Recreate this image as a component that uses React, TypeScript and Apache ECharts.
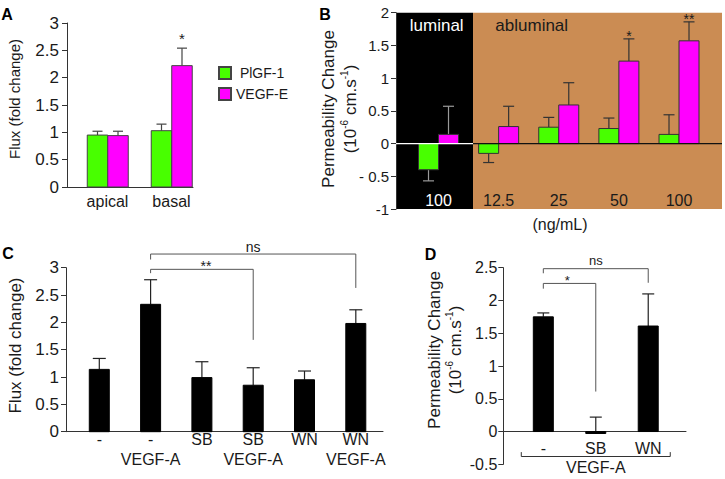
import React, { useEffect, useRef } from 'react';
import * as echarts from 'echarts';

// ---------------- data ----------------
const A_CATEGORIES = ['apical', 'basal'];
const A_PLGF = [0.95, 1.03];
const A_PLGF_ERR = [1.02, 1.15];
const A_VEGFE = [0.94, 2.22];
const A_VEGFE_ERR = [1.02, 2.54];

const B_CATEGORIES = ['100', '12.5', '25', '50', '100'];
const B_PLGF = [-0.4, -0.15, 0.25, 0.23, 0.14];
const B_PLGF_ERR = [-0.57, -0.29, 0.4, 0.39, 0.44];
const B_VEGFE = [0.14, 0.26, 0.59, 1.26, 1.57];
const B_VEGFE_ERR = [0.57, 0.57, 0.93, 1.6, 1.86];

const C_CATEGORIES = ['-', '-\nVEGF-A', 'SB', 'SB\nVEGF-A', 'WN', 'WN\nVEGF-A'];
const C_FLUX = [1.14, 2.33, 0.99, 0.85, 0.95, 1.98];
const C_FLUX_ERR = [1.34, 2.78, 1.28, 1.17, 1.11, 2.23];

const D_CATEGORIES = ['-', 'SB', 'WN'];
const D_PERM = [1.75, -0.03, 1.61];
const D_PERM_ERR = [1.81, 0.22, 2.1];

const SERIES_NAMES = ['PlGF-1', 'VEGF-E'];

// significance annotations (data units)
const A_STARS = [{ x: 1, y: A_VEGFE_ERR[1], label: '*' }];
const B_STARS = [
  { x: 3, y: B_VEGFE_ERR[3], label: '*' },
  { x: 4, y: B_VEGFE_ERR[4], label: '**' },
];
const C_BRACKETS = [
  { from: 1, to: 5, y: 3.25, leftEnd: 3.15, rightEnd: 2.63, label: 'ns', lx: 3, ly: 3.38 },
  { from: 1, to: 3, y: 2.97, leftEnd: 2.9, rightEnd: 1.68, label: '**', lx: 2.08, ly: 3.09 },
];
const D_BRACKETS = [
  { from: 0, to: 2, y: 2.485, leftEnd: 2.415, rightEnd: 2.27, label: 'ns', lx: 1, ly: 2.61 },
  { from: 0, to: 1, y: 2.26, leftEnd: 2.18, rightEnd: 0.61, label: '*', lx: 0.457, ly: 2.35 },
];
const D_GROUP = { from: -0.42, to: 2.42, y: -0.381, tip: -0.314, label: 'VEGF-A', ly: -0.543 };

// B regions
const B_REGIONS = [
  { from: -0.707, to: 0.574 },
  { from: 0.574, to: 4.715 },
];

// ---------------- style ----------------
const FONT = "'Liberation Sans', Arial, Helvetica, sans-serif";
const TXT = '#1a1a1a';
const AX = '#333';
const GREEN = '#48FF00';
const MAGENTA = '#FF00FF';
const BROWN = '#CB8C53';

const D_YMIN = -0.5;
const D_YMAX = 2.5;
const D_GRID = { left: 503.3, top: 267.7, width: 182.7, height: 196.6 };
const D_ZERO_OFFSET = ((0 - D_YMIN) / (D_YMAX - D_YMIN)) * D_GRID.height;

function barRender(offset: number, width: number, capW: number, errColor: (i: number) => string, fill: string, stroke: string) {
  return (params: any, api: any) => {
    const x = api.value(0);
    const v = api.value(1);
    const e = api.value(2);
    const base = api.coord([x, 0]);
    const top = api.coord([x, v]);
    const err = api.coord([x, e]);
    const cx = base[0] + offset;
    const ec = errColor(params.dataIndex);
    return {
      type: 'group',
      children: [
        { type: 'line', shape: { x1: cx, y1: top[1], x2: cx, y2: err[1] }, style: { stroke: ec, lineWidth: 1.2 } },
        { type: 'line', shape: { x1: cx - capW / 2, y1: err[1], x2: cx + capW / 2, y2: err[1] }, style: { stroke: ec, lineWidth: 1.2 } },
        {
          type: 'rect',
          shape: { x: cx - width / 2, y: Math.min(base[1], top[1]), width, height: Math.abs(base[1] - top[1]) },
          style: { fill, stroke, lineWidth: 1 },
        },
      ],
    };
  };
}

function barSeries(name: string, gi: number, values: number[], errs: number[], offset: number, width: number, capW: number, fill: string, stroke: string, errColor: (i: number) => string) {
  return {
    type: 'custom',
    name,
    xAxisIndex: gi,
    yAxisIndex: gi,
    clip: false,
    z: 3,
    itemStyle: { color: fill, borderColor: stroke, borderWidth: 1 },
    encode: { x: 0, y: 1 },
    data: values.map((v, i) => [i, v, errs[i]]),
    renderItem: barRender(offset, width, capW, errColor, fill, stroke),
  };
}

function starSeries(gi: number, stars: { x: number; y: number; label: string }[], dx: number, dy: number, fs: number) {
  return {
    type: 'custom',
    xAxisIndex: gi,
    yAxisIndex: gi,
    clip: false,
    z: 6,
    silent: true,
    encode: { x: 0, y: 1 },
    data: stars.map((s) => [s.x, s.y]),
    renderItem: (params: any, api: any) => {
      const p = api.coord([api.value(0), api.value(1)]);
      return {
        type: 'text',
        x: p[0] + dx,
        y: p[1] - dy + fs * 0.22,
        style: { text: stars[params.dataIndex].label, fill: TXT, fontSize: fs, fontFamily: FONT, align: 'center', verticalAlign: 'middle' },
      };
    },
  };
}

function bracketSeries(gi: number, brackets: any[], fs: number) {
  return {
    type: 'custom',
    xAxisIndex: gi,
    yAxisIndex: gi,
    clip: false,
    z: 6,
    silent: true,
    encode: { x: 0, y: 1 },
    data: brackets.map((b) => [b.from, b.y]),
    renderItem: (params: any, api: any) => {
      const b = brackets[params.dataIndex];
      const pts = [
        api.coord([b.from, b.leftEnd]),
        api.coord([b.from, b.y]),
        api.coord([b.to, b.y]),
        api.coord([b.to, b.rightEnd]),
      ];
      const lp = api.coord([b.lx, b.ly]);
      const star = b.label.indexOf('*') >= 0;
      return {
        type: 'group',
        children: [
          { type: 'polyline', shape: { points: pts }, style: { stroke: '#555', lineWidth: 1, fill: 'none' } },
          {
            type: 'text',
            x: lp[0],
            y: lp[1] + (star ? fs * 0.22 : 0),
            style: { text: b.label, fill: TXT, fontSize: fs, fontFamily: FONT, align: 'center', verticalAlign: 'middle' },
          },
        ],
      };
    },
  };
}

function buildOption() {
  const yAxisBase = (gi: number, min: number, max: number, fs: number, margin: number, fmt?: (v: number) => string) => ({
    gridIndex: gi,
    type: 'value',
    min,
    max,
    interval: 0.5,
    axisLine: { show: true, onZero: false, lineStyle: { color: AX, width: 1 } },
    axisTick: { show: true, length: 5, lineStyle: { color: AX } },
    splitLine: { show: false },
    axisLabel: { fontSize: fs, fontFamily: FONT, color: TXT, margin, formatter: fmt },
  });

  return {
    animation: false,
    backgroundColor: '#fff',
    textStyle: { fontFamily: FONT },
    grid: [
      { left: 67, top: 23, width: 126, height: 164, outerBoundsMode: 'none', containLabel: false },
      { left: 396, top: 12.7, width: 326, height: 196.3, outerBoundsMode: 'none', containLabel: false },
      { left: 66, top: 267.7, width: 317, height: 164, outerBoundsMode: 'none', containLabel: false },
      { ...D_GRID, outerBoundsMode: 'none', containLabel: false },
    ],
    xAxis: [
      {
        gridIndex: 0,
        type: 'value',
        min: -0.633,
        max: 1.336,
        axisLine: { show: true, onZero: false, lineStyle: { color: AX } },
        axisTick: { show: false },
        splitLine: { show: false },
        axisLabel: {
          customValues: A_CATEGORIES.map((_, i) => i),
          formatter: (v: number) => A_CATEGORIES[Math.round(v)] ?? '',
          fontSize: 16,
          fontFamily: FONT,
          color: TXT,
          margin: 6,
        },
      },
      {
        gridIndex: 1,
        type: 'value',
        min: B_REGIONS[0].from,
        max: B_REGIONS[1].to,
        axisLine: { show: false },
        axisTick: { show: false },
        splitLine: { show: false },
        axisLabel: { show: false },
      },
      {
        gridIndex: 2,
        type: 'value',
        min: -0.649,
        max: 5.53,
        axisLine: { show: true, onZero: false, lineStyle: { color: AX } },
        axisTick: { show: false },
        splitLine: { show: false },
        axisLabel: {
          customValues: C_CATEGORIES.map((_, i) => i),
          formatter: (v: number) => C_CATEGORIES[Math.round(v)] ?? '',
          fontSize: 16,
          lineHeight: 20,
          fontFamily: FONT,
          color: TXT,
          margin: -2,
        },
      },
      {
        gridIndex: 3,
        type: 'value',
        min: -0.763,
        max: 2.72,
        position: 'bottom',
        offset: -D_ZERO_OFFSET,
        axisLine: { show: true, onZero: false, lineStyle: { color: AX } },
        axisTick: { show: false },
        splitLine: { show: false },
        axisLabel: {
          customValues: D_CATEGORIES.map((_, i) => i),
          formatter: (v: number) => D_CATEGORIES[Math.round(v)] ?? '',
          fontSize: 16,
          fontFamily: FONT,
          color: TXT,
          margin: 9,
        },
      },
    ],
    yAxis: [
      yAxisBase(0, 0, 3, 17, 8),
      yAxisBase(1, -1, 2, 15, 7, (v: number) => (v === -0.5 ? '- 0.5' : String(v))),
      yAxisBase(2, 0, 3, 17, 7),
      yAxisBase(3, D_YMIN, D_YMAX, 16, 6),
    ],
    legend: {
      left: 213,
      top: 61,
      orient: 'vertical',
      icon: 'rect',
      itemWidth: 12,
      itemHeight: 12,
      itemGap: 7,
      selectedMode: false,
      data: SERIES_NAMES,
      formatter: (n: string) => (n === 'PlGF-1' ? ' ' + n : n),
      textStyle: { fontSize: 14, fontFamily: FONT, color: TXT, lineHeight: 12 },
    },
    series: [
      // Panel A
      barSeries(SERIES_NAMES[0], 0, A_PLGF, A_PLGF_ERR, -10, 20.5, 10, GREEN, '#444', () => '#444'),
      barSeries(SERIES_NAMES[1], 0, A_VEGFE, A_VEGFE_ERR, 10.5, 20.5, 10, MAGENTA, '#444', () => '#444'),
      starSeries(0, A_STARS, 10.5, 13, 15),
      // Panel B backgrounds
      {
        type: 'custom',
        xAxisIndex: 1,
        yAxisIndex: 1,
        clip: false,
        z: 1,
        silent: true,
        encode: { x: 0, y: 1 },
        data: B_REGIONS.map((r) => [r.from, 0, r.to]),
        renderItem: (params: any, api: any) => {
          const x0 = api.value(0);
          const x1 = api.value(2);
          const p0 = api.coord([x0, 2]);
          const p1 = api.coord([x1, -1]);
          return {
            type: 'rect',
            shape: { x: p0[0] + (params.dataIndex === 0 ? 1 : 0), y: p0[1], width: p1[0] - p0[0] - (params.dataIndex === 0 ? 1 : 0), height: p1[1] - p0[1] },
            style: { fill: params.dataIndex === 0 ? '#000' : BROWN },
          };
        },
      },
      barSeries(SERIES_NAMES[0], 1, B_PLGF, B_PLGF_ERR, -10, 20, 11, GREEN, '#333', (i) => (i === 0 ? '#9a9a9a' : '#333')),
      barSeries(SERIES_NAMES[1], 1, B_VEGFE, B_VEGFE_ERR, 10, 20, 11, MAGENTA, '#333', (i) => (i === 0 ? '#9a9a9a' : '#333')),
      // Panel B zero line
      {
        type: 'custom',
        xAxisIndex: 1,
        yAxisIndex: 1,
        clip: false,
        z: 5,
        silent: true,
        encode: { x: 0, y: 1 },
        data: B_REGIONS.map((r) => [r.from, 0, r.to]),
        renderItem: (params: any, api: any) => {
          const p0 = api.coord([api.value(0), 0]);
          const p1 = api.coord([api.value(2), 0]);
          return {
            type: 'line',
            shape: { x1: p0[0], y1: p0[1], x2: p1[0], y2: p1[1] },
            style: { stroke: params.dataIndex === 0 ? '#fff' : '#111', lineWidth: 1.2 },
          };
        },
      },
      // Panel B category labels (inside plot)
      {
        type: 'custom',
        xAxisIndex: 1,
        yAxisIndex: 1,
        clip: false,
        z: 6,
        silent: true,
        encode: { x: 0, y: 1 },
        data: B_CATEGORIES.map((_, i) => [i, -1]),
        renderItem: (params: any, api: any) => {
          const p = api.coord([api.value(0), api.value(1)]);
          return {
            type: 'text',
            x: p[0],
            y: p[1] - 9,
            style: {
              text: B_CATEGORIES[params.dataIndex],
              fill: params.dataIndex === 0 ? '#fff' : TXT,
              fontSize: 16,
              fontFamily: FONT,
              align: 'center',
              verticalAlign: 'middle',
            },
          };
        },
      },
      starSeries(1, B_STARS, 10, 6, 14),
      // Panel C
      barSeries('C', 2, C_FLUX, C_FLUX_ERR, 0, 20, 13, '#000', '#000', () => '#222'),
      bracketSeries(2, C_BRACKETS, 14),
      // Panel D
      barSeries('D', 3, D_PERM, D_PERM_ERR, 0, 20, 12, '#000', '#000', () => '#222'),
      bracketSeries(3, D_BRACKETS, 13),
      {
        type: 'custom',
        xAxisIndex: 3,
        yAxisIndex: 3,
        clip: false,
        z: 6,
        silent: true,
        encode: { x: 0, y: 1 },
        data: [[D_GROUP.from, D_GROUP.y]],
        renderItem: (params: any, api: any) => {
          const pts = [
            api.coord([D_GROUP.from, D_GROUP.tip]),
            api.coord([D_GROUP.from, D_GROUP.y]),
            api.coord([D_GROUP.to, D_GROUP.y]),
            api.coord([D_GROUP.to, D_GROUP.tip]),
          ];
          const lp = api.coord([(D_GROUP.from + D_GROUP.to) / 2, D_GROUP.ly]);
          return {
            type: 'group',
            children: [
              { type: 'polyline', shape: { points: pts }, style: { stroke: '#333', lineWidth: 1, fill: 'none' } },
              {
                type: 'text',
                x: lp[0],
                y: lp[1],
                style: { text: D_GROUP.label, fill: TXT, fontSize: 16, fontFamily: FONT, align: 'center', verticalAlign: 'middle' },
              },
            ],
          };
        },
      },
    ],
    graphic: [
      { type: 'text', x: 7, y: 14, style: { text: 'A', fontSize: 16, fontWeight: 'bold', fontFamily: FONT, fill: '#000', align: 'center', verticalAlign: 'middle' } },
      { type: 'text', x: 325, y: 14, style: { text: 'B', fontSize: 16, fontWeight: 'bold', fontFamily: FONT, fill: '#000', align: 'center', verticalAlign: 'middle' } },
      { type: 'text', x: 8, y: 253.5, style: { text: 'C', fontSize: 16, fontWeight: 'bold', fontFamily: FONT, fill: '#000', align: 'center', verticalAlign: 'middle' } },
      { type: 'text', x: 430.5, y: 254, style: { text: 'D', fontSize: 16, fontWeight: 'bold', fontFamily: FONT, fill: '#000', align: 'center', verticalAlign: 'middle' } },
      {
        type: 'text', x: 14, y: 99, rotation: Math.PI / 2,
        style: { text: 'Flux (fold change)', fontSize: 15, fontFamily: FONT, fill: TXT, align: 'center', verticalAlign: 'middle' },
      },
      {
        type: 'text', x: 15.5, y: 345.5, rotation: Math.PI / 2,
        style: { text: 'Flux (fold change)', fontSize: 17, fontFamily: FONT, fill: TXT, align: 'center', verticalAlign: 'middle' },
      },
      {
        type: 'text', x: 339, y: 109, rotation: Math.PI / 2,
        style: {
          text: 'Permeability Change\n(10{sup|-6} cm.s{sup|-1})',
          fontSize: 17, lineHeight: 22, fontFamily: FONT, fill: TXT, align: 'center', verticalAlign: 'middle',
          rich: { sup: { fontSize: 10, fontFamily: FONT, fill: TXT, verticalAlign: 'top', lineHeight: 22 } },
        },
      },
      {
        type: 'text', x: 444.5, y: 350, rotation: Math.PI / 2,
        style: {
          text: 'Permeability Change\n(10{sup|-6} cm.s{sup|-1})',
          fontSize: 17, lineHeight: 21, fontFamily: FONT, fill: TXT, align: 'center', verticalAlign: 'middle',
          rich: { sup: { fontSize: 10, fontFamily: FONT, fill: TXT, verticalAlign: 'top', lineHeight: 21 } },
        },
      },
      { type: 'text', x: 436.7, y: 25, z: 10, style: { text: 'luminal', fontSize: 17, fontFamily: FONT, fill: '#fff', align: 'center', verticalAlign: 'middle' } },
      { type: 'text', x: 531.7, y: 25, z: 10, style: { text: 'abluminal', fontSize: 17, fontFamily: FONT, fill: TXT, align: 'center', verticalAlign: 'middle' } },
      { type: 'text', x: 560, y: 224, style: { text: '(ng/mL)', fontSize: 16, fontFamily: FONT, fill: TXT, align: 'center', verticalAlign: 'middle' } },
    ],
  };
}

export default function App() {
  const ref = useRef<HTMLDivElement>(null);
  useEffect(() => {
    if (!ref.current) return;
    const chart = echarts.init(ref.current, undefined, { renderer: 'svg' });
    chart.setOption(buildOption() as any);
    return () => chart.dispose();
  }, []);
  return <div ref={ref} style={{ position: 'absolute', left: 0, top: 0, width: 725, height: 479, background: '#fff' }} />;
}
